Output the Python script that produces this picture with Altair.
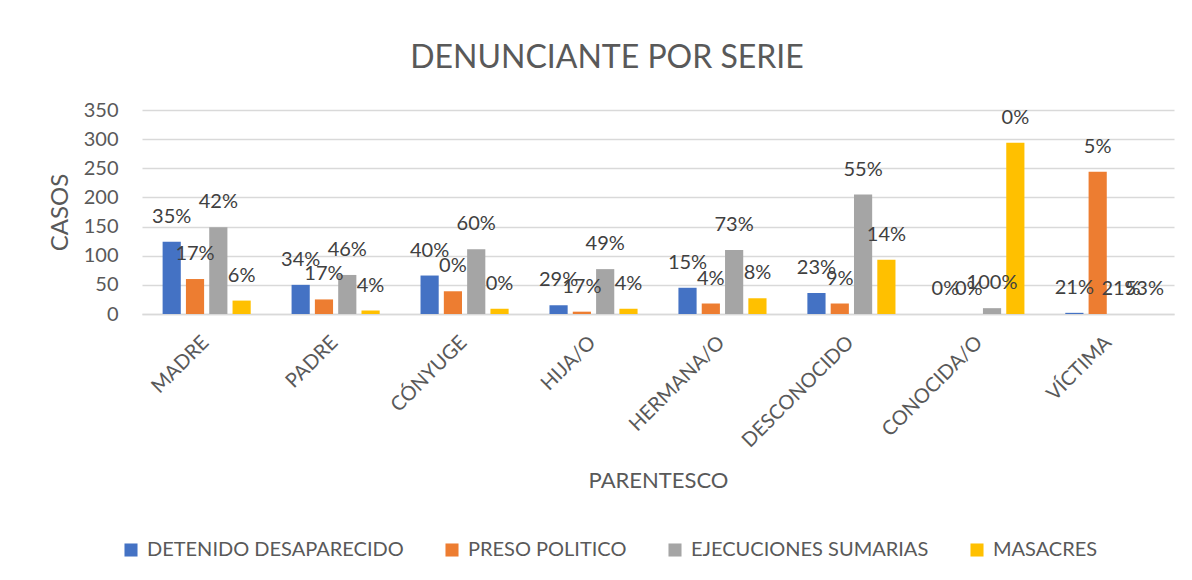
import altair as alt
import pandas as pd

categories = ["MADRE", "PADRE", "CÓNYUGE", "HIJA/O", "HERMANA/O",
              "DESCONOCIDO", "CONOCIDA/O", "VÍCTIMA"]
series = ["DETENIDO DESAPARECIDO", "PRESO POLITICO",
          "EJECUCIONES SUMARIAS", "MASACRES"]

detenido = [124, 50, 66, 15, 45, 36, 0, 2]
preso = [60, 25, 39, 4, 18, 18, 0, 244]
ejecuciones = [149, 67, 111, 77, 110, 205, 10, 0]
masacres = [23, 6, 9, 9, 27, 93, 294, 0]

pct_detenido = ["35%", "34%", "40%", "29%", "15%", "23%", "0%", "21%"]
pct_preso = ["17%", "17%", "0%", "17%", "4%", "9%", "0%", "5%"]
pct_ejecuciones = ["42%", "46%", "60%", "49%", "73%", "55%", "100%", "21%"]
pct_masacres = ["6%", "4%", "0%", "4%", "8%", "14%", "0%", "53%"]

colors = ["#4472C4", "#ED7D31", "#A5A5A5", "#FFC000"]
y_ticks = [0, 50, 100, 150, 200, 250, 300, 350]

rows = []
for s, vals, pcts in zip(series,
                         [detenido, preso, ejecuciones, masacres],
                         [pct_detenido, pct_preso, pct_ejecuciones, pct_masacres]):
    for c, v, p in zip(categories, vals, pcts):
        rows.append({"parentesco": c, "serie": s, "casos": v, "pct": p})
df = pd.DataFrame(rows)

FONT = "Lato"
TXT = "#595959"

y_enc = alt.Y("casos:Q", scale=alt.Scale(domain=[0, 350]),
              axis=alt.Axis(title="CASOS", values=y_ticks, tickCount=8,
                            labelOverlap=False, labelFontSize=20,
                            labelColor=TXT, labelPadding=24, ticks=False, domain=False,
                            gridColor="#D9D9D9", gridWidth=1.3,
                            titleFontSize=24, titleColor=TXT, titleFontWeight="normal",
                            titleX=-82, titleY=102, titleBaseline="middle",
                            titleAlign="center"))

base = alt.Chart(df).encode(
    x=alt.X("parentesco:N", sort=categories,
            scale=alt.Scale(paddingInner=0.277, paddingOuter=0.14),
            axis=alt.Axis(title="PARENTESCO", labelAngle=-45, labelFontSize=20,
                          labelColor=TXT, labelPadding=18, labelOffset=-8, ticks=False,
                          labelOverlap=False,
                          domainColor="#D9D9D9", domainWidth=1.3,
                          titleFontSize=22, titleColor=TXT, titleFontWeight="normal",
                          titleY=166, titleBaseline="middle")),
    xOffset=alt.XOffset("serie:N", sort=series,
                        scale=alt.Scale(paddingInner=0.22, paddingOuter=0.11)),
    y=y_enc,
)

bars = base.mark_bar().encode(
    color=alt.Color("serie:N", sort=series,
                    scale=alt.Scale(domain=series, range=colors),
                    legend=alt.Legend(title=None, orient="none", direction="horizontal",
                                      legendX=-21, legendY=430, symbolType="square",
                                      symbolSize=170, symbolStrokeWidth=0,
                                      labelFontSize=20, labelColor=TXT, labelOffset=6,
                                      labelLimit=0, columnPadding=38, padding=0)),
)

labels = base.mark_text(dy=-25, fontSize=20, color="#404040", font=FONT).encode(
    text="pct:N",
)

chart = alt.layer(bars, labels).properties(
    width=1032, height=204,
    title=alt.TitleParams("DENUNCIANTE POR SERIE", fontSize=32, font=FONT,
                          color=TXT, fontWeight="normal", dx=-51, offset=25),
    autosize=alt.AutoSizeParams(type="none"),
    padding={"left": 134, "top": 102, "right": 10, "bottom": 250},
).configure(font=FONT).configure_view(stroke=None)

chart.save("out.html", embed_options={"renderer": "svg", "actions": False})
